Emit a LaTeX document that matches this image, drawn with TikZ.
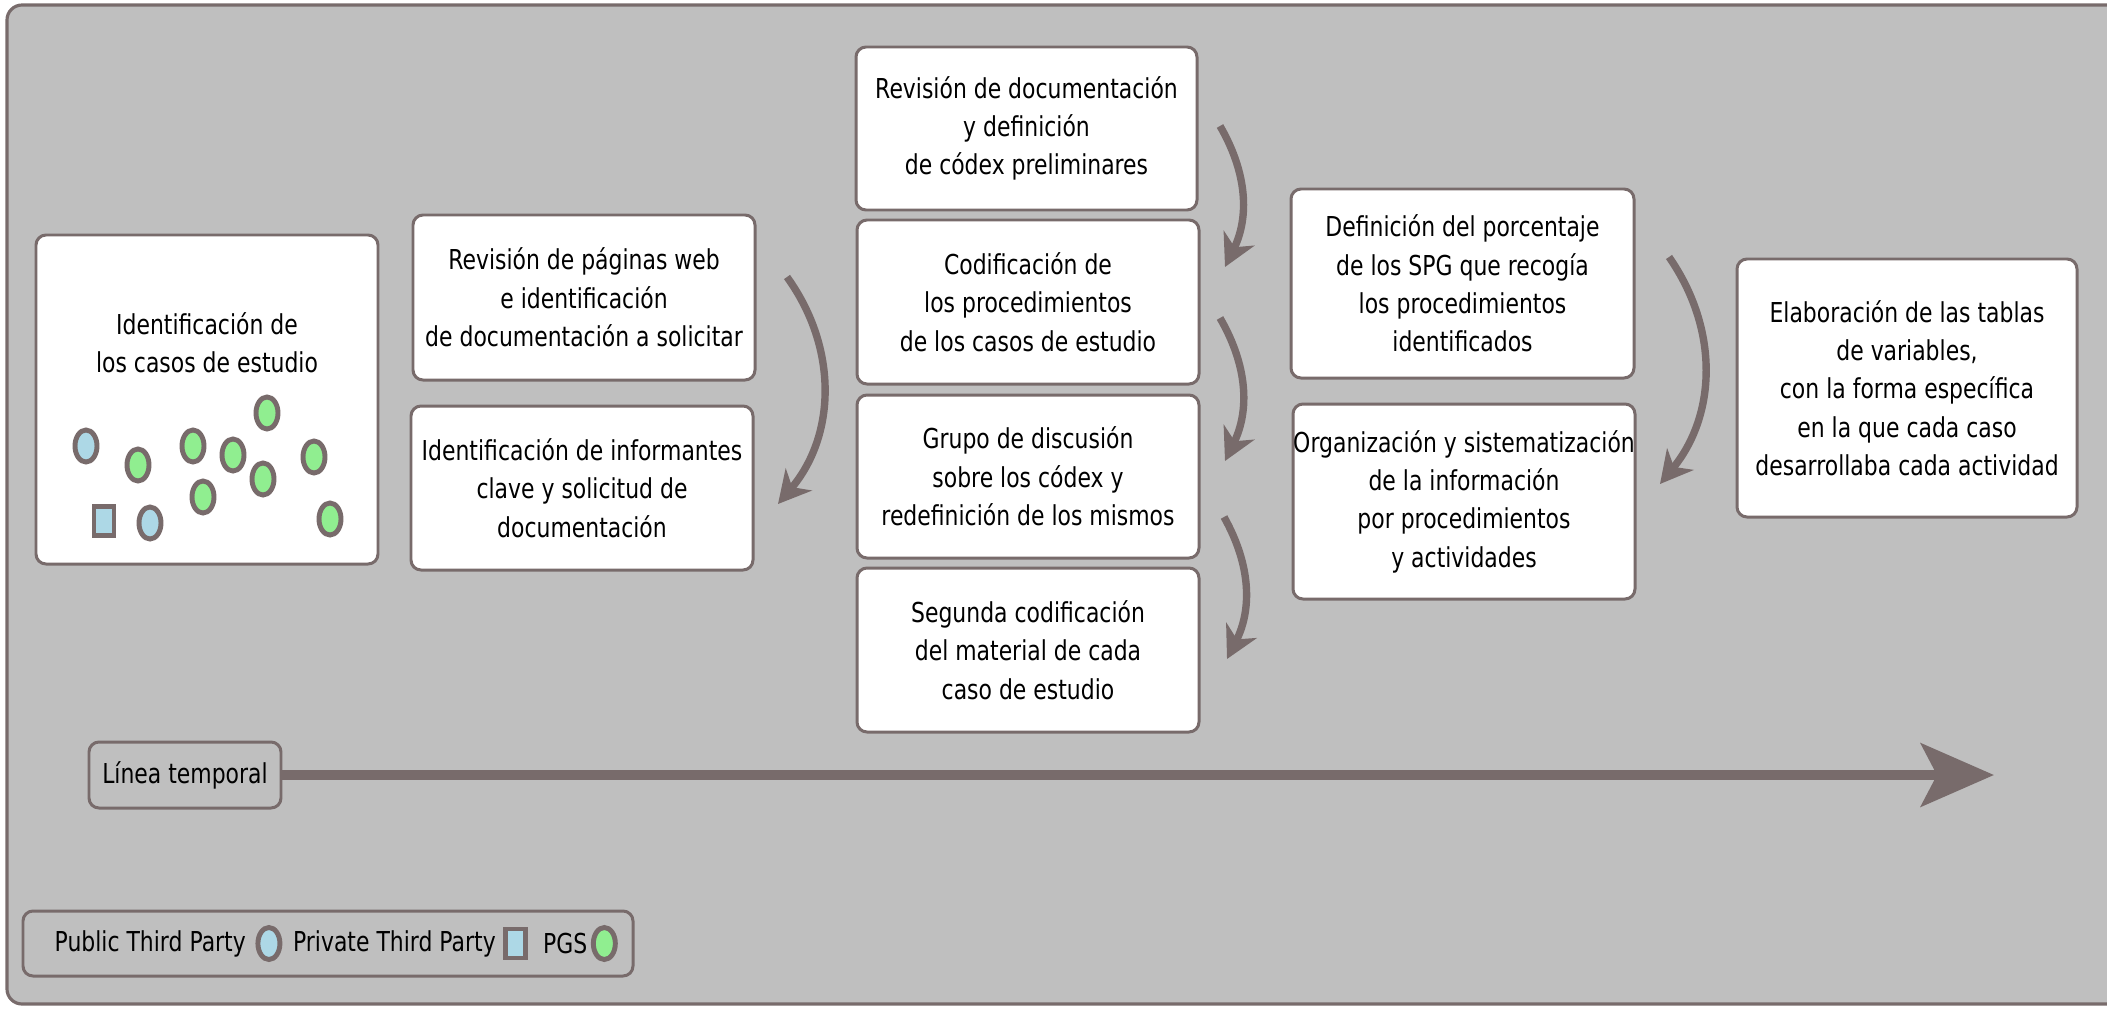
\documentclass[tikz,border=0pt]{standalone}
\usepackage{fontspec}
\setmainfont{DejaVu Sans}[FakeStretch=0.80]
\usetikzlibrary{arrows.meta,positioning,shapes.geometric}

\definecolor{marco}{HTML}{786B6B}
\definecolor{fondo}{HTML}{BFBFBF}
\definecolor{azul}{HTML}{ADD8E6}
\definecolor{verde}{HTML}{90EE90}

\tikzset{
  letra/.style={font=\fontsize{7.8}{10.9}\selectfont},
  caja/.style={draw=marco, line width=0.85pt, fill=white, rounded corners=0.1cm, align=center, letra,
    minimum width=3.42cm, minimum height=1.64cm, inner sep=0pt},
  marcogris/.style={draw=marco, line width=0.85pt, rounded corners=0.1cm, letra},
  publico/.style={ellipse, draw=marco, line width=1.4pt, fill=azul, minimum width=0.22cm, minimum height=0.32cm, inner sep=0pt},
  privado/.style={rectangle, draw=marco, line width=1.4pt, fill=azul, minimum width=0.2cm, minimum height=0.29cm, inner sep=0pt},
  spg/.style={publico, fill=verde},
  curva/.style={draw=marco, line width=2.1pt, -{Stealth[length=0.32cm,width=0.34cm,inset=0.1cm]}},
}

\begin{document}
\begin{tikzpicture}
	\useasboundingbox (0,0) rectangle (21.07,10.09);
	% fondo
	\draw[draw=marco, line width=0.9pt, fill=fondo, rounded corners=0.15cm] (0.07,0.05) rectangle (21.5,10.04);
	
	% casos de estudio
	\node[caja, minimum height=3.29cm] (caso) at (2.07,6.095) {};
	\node[letra, align=center, inner sep=0pt] (casotxt) at (2.07,6.665) {Identificación de\\los casos de estudio};
	\node[publico] (pub1) at (0.86,5.63) {};
	\node[publico] (pub2) at (1.50,4.86) {};
	\node[privado] (priv1) at (1.04,4.88) {};
	\foreach \x/\y [count=\i] in {1.38/5.44, 1.93/5.63, 2.33/5.54, 2.67/5.96, 2.63/5.30, 2.03/5.12, 3.14/5.52, 3.30/4.90}
		\node[spg] (spg\i) at (\x,\y) {};
	
	% columna 2
	\node[caja, minimum height=1.65cm] (web) at (5.84,7.115) {Revisión de páginas web\\e identificación\\de documentación a solicitar};
	\node[caja] (informantes) at (5.82,5.21) {Identificación de informantes\\clave y solicitud de\\documentación};
	
	% columna 3
	\node[caja, minimum width=3.41cm, minimum height=1.63cm] (revdoc) at (10.265,8.805) {Revisión de documentación\\y definición\\de códex preliminares};
	\node[caja] (codif) at (10.28,7.07) {Codificación de\\los procedimientos\\de los casos de estudio};
	\node[caja, minimum height=1.63cm] (grupo) at (10.28,5.325) {Grupo de discusión\\sobre los códex y\\redefinición de los mismos};
	\node[caja] (segunda) at (10.28,3.59) {Segunda codificación\\del material de cada\\caso de estudio};
	
	% columna 4
	\node[caja, minimum width=3.43cm, minimum height=1.89cm] (porcentaje) at (14.625,7.255) {Definición del porcentaje\\de los SPG que recogía\\los procedimientos\\identificados};
	\node[caja, minimum height=1.95cm] (organiza) at (14.64,5.075) {Organización y sistematización\\de la información\\por procedimientos\\y actividades};
	
	% columna 5
	\node[caja, minimum width=3.40cm, minimum height=2.58cm] (tablas) at (19.07,6.21) {Elaboración de las tablas\\de variables,\\con la forma específica\\en la que cada caso\\desarrollaba cada actividad};
	
	% flechas curvas
	\coordinate (a1) at (7.87,7.32);
	\coordinate (a2) at (7.78,5.05);
	\coordinate (b1) at (12.20,8.83);
	\coordinate (b2) at (12.25,7.42);
	\coordinate (c1) at (12.20,6.91);
	\coordinate (c2) at (12.25,5.48);
	\coordinate (d1) at (12.24,4.92);
	\coordinate (d2) at (12.27,3.50);
	\coordinate (e1) at (16.69,7.52);
	\coordinate (e2) at (16.60,5.25);
	\draw[curva] (a1) to[bend left=38] (a2);
	\draw[curva] (b1) to[bend left=28] (b2);
	\draw[curva] (c1) to[bend left=28] (c2);
	\draw[curva] (d1) to[bend left=28] (d2);
	\draw[curva] (e1) to[bend left=37] (e2);
	
	% linea temporal
	\node[marcogris, minimum width=1.92cm, minimum height=0.66cm] (tiempo) at (1.85,2.34) {Línea temporal};
	\coordinate (fin) at (19.94,2.32);
	\draw[draw=marco, line width=3pt, -{Stealth[length=0.73cm,width=0.63cm,inset=0.16cm]}] (tiempo.east) -- (tiempo.east -| fin);
	
	% leyenda
	\node[marcogris, minimum width=6.10cm, minimum height=0.65cm] (leyenda) at (3.28,0.655) {};
	\node[letra, inner sep=0pt, anchor=west] (pubtxt) at (0.54,0.655) {Public Third Party};
	\node[publico, right=0.09cm of pubtxt] (pubicon) {};
	\node[letra, inner sep=0pt, right=0.1cm of pubicon] (privtxt) {Private Third Party};
	\node[privado, right=0.07cm of privtxt] (privicon) {};
	\node[letra, inner sep=0pt, right=0.14cm of privicon] (spgtxt) {PGS};
	\node[spg, right=0.03cm of spgtxt] (spgicon) {};
	
\end{tikzpicture}
\end{document}
